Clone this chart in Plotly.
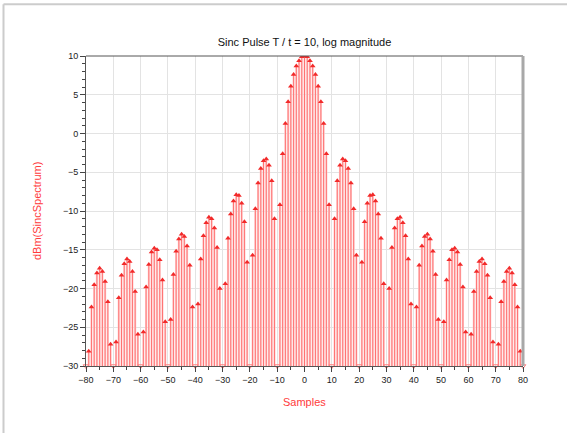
import plotly.graph_objects as go

samples = list(range(-80, 81))
pos_half = [9.9, 9.4, 8.7, 7.6, 6.1, 4.1, 1.3, -2.6, -9.2, None,
            -11.0, -6.1, -4.1, -3.3, -3.5, -4.5, -6.4, -9.7, -15.7, None,
            -16.6, -11.4, -9.0, -8.0, -7.9, -8.7, -10.4, -13.5, -19.4, None,
            -20.0, -14.7, -12.2, -11.0, -10.8, -11.5, -13.2, -16.2, -22.0, None,
            -22.4, -17.0, -14.5, -13.3, -13.0, -13.6, -15.2, -18.2, -24.0, None,
            -24.3, -18.9, -16.3, -15.0, -14.8, -15.3, -16.9, -19.8, -25.6, None,
            -25.9, -20.4, -17.8, -16.5, -16.2, -16.8, -18.3, -21.2, -26.9, None,
            -27.2, -21.7, -19.1, -17.8, -17.4, -18.0, -19.5, -22.4, -28.1, None]
# dBm(SincSpectrum) for samples -80..80 (None = below the -30 dBm floor)
dbm = pos_half[::-1] + [10.0] + pos_half

y_min, y_max = -30, 10

# stems
sx, sy = [], []
for x, v in zip(samples, dbm):
    if v is not None:
        sx += [x, x, None]
        sy += [y_min, v, None]

mx = [x for x, v in zip(samples, dbm) if v is not None]
my = [v for v in dbm if v is not None]
cx = [x for x, v in zip(samples, dbm) if v is None]
cy = [y_min for x in cx]

fig = go.Figure()
fig.add_trace(go.Scatter(x=sx, y=sy, mode="lines",
                         line=dict(color="#ffd2d2", width=2.2), hoverinfo="skip"))
fig.add_trace(go.Scatter(x=sx, y=sy, mode="lines",
                         line=dict(color="#ff7272", width=1), hoverinfo="skip"))
fig.add_trace(go.Scatter(x=mx, y=my, mode="markers",
                         marker=dict(symbol="triangle-up", size=5, color="#f22a2a",
                                     line=dict(width=0))))
fig.add_trace(go.Scatter(x=cx, y=cy, mode="markers", cliponaxis=False,
                         marker=dict(symbol="triangle-down-open", size=5, color="#ff8080",
                                     line=dict(width=1))))

axis_common = dict(showline=True, linecolor="#555555", linewidth=1, mirror=False,
                   gridcolor="#e3e3e3", gridwidth=1, zeroline=False,
                   ticks="outside", tickcolor="#444444", ticklen=5,
                   tickfont=dict(family="Liberation Sans, Arial", size=9, color="#222222"))

fig.update_xaxes(range=[-80, 80], dtick=10, tick0=0,
                 minor=dict(dtick=5, ticks="outside", ticklen=3, tickcolor="#444444", showgrid=False),
                 **axis_common)
fig.update_yaxes(range=[y_min, y_max], dtick=5, tick0=0,
                 minor=dict(dtick=1, ticks="outside", ticklen=3, tickcolor="#444444", showgrid=False),
                 **axis_common)

fig.update_layout(
    width=567, height=433,
    margin=dict(l=86, r=44, t=56, b=67),
    paper_bgcolor="white", plot_bgcolor="white",
    showlegend=False,
    title=dict(text="Sinc Pulse T / t = 10, log magnitude", x=(304.5) / 567, xanchor="center",
               y=1 - 42 / 433, yanchor="middle",
               font=dict(family="Liberation Sans, Arial", size=11, color="#111111")),
    annotations=[
        dict(text="dBm(SincSpectrum)", xref="paper", yref="paper",
             x=(37 - 86) / 437, y=0.5, textangle=-90, showarrow=False,
             xanchor="center", yanchor="middle",
             font=dict(family="Liberation Sans, Arial", size=11, color="#ff3b3b")),
        dict(text="Samples", xref="paper", yref="paper",
             x=0.5, y=(366 - 402) / 310.3, showarrow=False,
             xanchor="center", yanchor="middle",
             font=dict(family="Liberation Sans, Arial", size=11, color="#ff3b3b")),
    ],
    shapes=[
        dict(type="line", xref="paper", yref="paper", x0=0, x1=1, y0=1, y1=1,
             line=dict(color="#555555", width=1)),
        dict(type="line", xref="paper", yref="paper", x0=1, x1=1, y0=0, y1=1,
             line=dict(color="#a8a8a8", width=3)),
        dict(type="line", xref="paper", yref="paper",
             x0=(3.5 - 86) / 437, x1=(3.5 - 86) / 437, y0=(366 - 440) / 310.3, y1=(366 - 4) / 310.3,
             line=dict(color="#cccccc", width=2)),
        dict(type="line", xref="paper", yref="paper",
             x0=(3.5 - 86) / 437, x1=(580 - 86) / 437, y0=(366 - 4) / 310.3, y1=(366 - 4) / 310.3,
             line=dict(color="#cccccc", width=2)),
    ],
)

fig.write_html("out.html")
